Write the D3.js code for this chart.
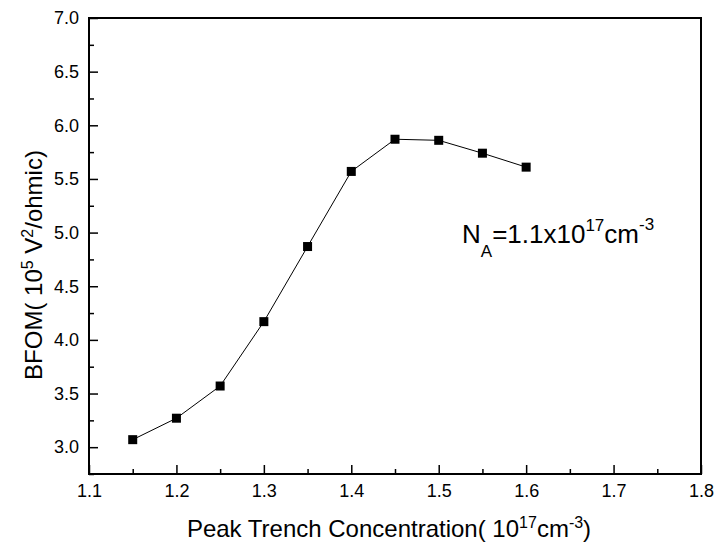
<!DOCTYPE html>
<html>
<head>
<meta charset="utf-8">
<script src="https://cdn.jsdelivr.net/npm/d3@7"></script>
<style>
  body { margin: 0; background: #fff; }
  svg text { font-family: Arial, "Liberation Sans", sans-serif; fill: #000; }
</style>
</head>
<body>
<div id="chart"></div>
<script>
const concentration = [1.15, 1.20, 1.25, 1.30, 1.35, 1.40, 1.45, 1.50, 1.55, 1.60];
const bfom = [3.07, 3.27, 3.57, 4.17, 4.87, 5.57, 5.87, 5.86, 5.74, 5.61];
const xTicks = [1.1, 1.2, 1.3, 1.4, 1.5, 1.6, 1.7, 1.8];
const yTicks = [3.0, 3.5, 4.0, 4.5, 5.0, 5.5, 6.0, 6.5, 7.0];
const xMinor = [1.15, 1.25, 1.35, 1.45, 1.55, 1.65, 1.75];
const yMinor = [2.75, 3.25, 3.75, 4.25, 4.75, 5.25, 5.75, 6.25, 6.75];

const W = 718, H = 554;
const margin = { top: 18, right: 17, bottom: 80, left: 89 };
const innerW = W - margin.left - margin.right;
const innerH = H - margin.top - margin.bottom;

const svg = d3.select("#chart").append("svg")
  .attr("width", W)
  .attr("height", H);

const g = svg.append("g")
  .attr("transform", `translate(${margin.left},${margin.top})`);

const x = d3.scaleLinear().domain([1.1, 1.8]).range([0, innerW]);
const y = d3.scaleLinear().domain([2.75, 7.0]).range([innerH, 0]);

// frame
g.append("rect")
  .attr("width", innerW)
  .attr("height", innerH)
  .attr("fill", "none")
  .attr("stroke", "#000")
  .attr("stroke-width", 2);

// axes, ticks point inward
const styleAxis = sel => {
  sel.select(".domain").remove();
  sel.selectAll(".tick line").attr("stroke", "#000").attr("stroke-width", 1.5);
};

g.append("g")
  .attr("transform", `translate(0,${innerH})`)
  .call(d3.axisBottom(x).tickValues(xTicks).tickFormat(d3.format(".1f"))
    .tickSizeInner(-9).tickSizeOuter(0).tickPadding(10))
  .call(styleAxis)
  .selectAll("text").attr("font-size", 18);

g.append("g")
  .attr("transform", `translate(0,${innerH})`)
  .call(d3.axisBottom(x).tickValues(xMinor).tickFormat("")
    .tickSizeInner(-5).tickSizeOuter(0))
  .call(styleAxis);

g.append("g")
  .call(d3.axisLeft(y).tickValues(yTicks).tickFormat(d3.format(".1f"))
    .tickSizeInner(-9).tickSizeOuter(0).tickPadding(10))
  .call(styleAxis)
  .selectAll("text").attr("font-size", 18);

g.append("g")
  .call(d3.axisLeft(y).tickValues(yMinor).tickFormat("")
    .tickSizeInner(-5).tickSizeOuter(0))
  .call(styleAxis);

// line + markers
const pts = concentration.map((c, i) => ({ c, v: bfom[i] }));

g.append("path")
  .datum(pts)
  .attr("fill", "none")
  .attr("stroke", "#000")
  .attr("stroke-width", 1)
  .attr("d", d3.line().x(d => x(d.c)).y(d => y(d.v)));

g.selectAll("rect.pt")
  .data(pts)
  .join("rect")
  .attr("class", "pt")
  .attr("x", d => x(d.c) - 4.5)
  .attr("y", d => y(d.v) - 4.5)
  .attr("width", 9)
  .attr("height", 9)
  .attr("fill", "#000");

// x title
const xt = svg.append("text")
  .attr("x", 389)
  .attr("y", 537)
  .attr("text-anchor", "middle")
  .attr("font-size", 24);
xt.append("tspan").text("Peak Trench Concentration( 10");
xt.append("tspan").attr("font-size", 16).attr("dy", -9).text("17");
xt.append("tspan").attr("dy", 9).text("cm");
xt.append("tspan").attr("font-size", 16).attr("dy", -9).text("-3");
xt.append("tspan").attr("dy", 9).text(")");

// y title
const yt = svg.append("text")
  .attr("transform", `translate(42,265) rotate(-90)`)
  .attr("text-anchor", "middle")
  .attr("font-size", 24);
yt.append("tspan").text("BFOM( 10");
yt.append("tspan").attr("font-size", 16).attr("dy", -9).text("5");
yt.append("tspan").attr("dy", 9).text(" V");
yt.append("tspan").attr("font-size", 16).attr("dy", -9).text("2");
yt.append("tspan").attr("dy", 9).text("/ohmic)");

// annotation
const an = svg.append("text")
  .attr("x", 462)
  .attr("y", 243)
  .attr("font-size", 26);
an.append("tspan").text("N");
an.append("tspan").attr("font-size", 17).attr("dy", 14).text("A");
an.append("tspan").attr("dy", -14).text("=1.1x10");
an.append("tspan").attr("font-size", 17).attr("dy", -12).text("17");
an.append("tspan").attr("dy", 12).text("cm");
an.append("tspan").attr("font-size", 17).attr("dy", -13).text("-3");
</script>
</body>
</html>
